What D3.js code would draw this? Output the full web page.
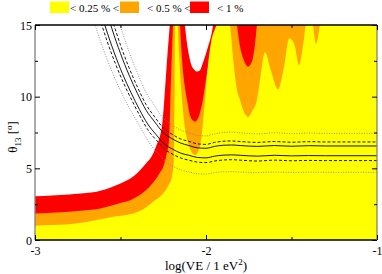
<!DOCTYPE html>
<html><head><meta charset="utf-8">
<script src="https://cdn.jsdelivr.net/npm/d3@7"></script>
<style>
body{margin:0;background:#fff}
svg{display:block}
text{font-family:"Liberation Serif","Times New Roman",serif;fill:#000}
</style>
</head><body>
<svg id="c" width="382" height="274"></svg>
<script>
const xTicks=[-3,-2,-1];
const xMinorTicks=[-2.5,-1.5];
const yTicks=[0,5,10,15];
const yMinorTicks=[2.5,7.5,12.5];
const legendLabels=["< 0.25 % <","< 0.5 % <","< 1 %"];
const legendColors=["#ffff00","#ffa500","#ff0000"];

// boundary of the 1 % region (red / white)
const bound3=[[-3,3.05],[-2.9,3.1],[-2.8,3.18],[-2.7,3.28],[-2.64,3.37],[-2.55,3.7],[-2.5,3.95],[-2.44,4.3],[-2.4,4.7],[-2.35,5.35],[-2.31,6.0],[-2.29,6.6],[-2.27,7.2],[-2.255,8.2],[-2.245,9.6],[-2.235,11.3],[-2.225,13.0],[-2.212,15],[-2.2,17.5],[-2.18,20],[-2.15,20],[-2.135,17],[-2.123,15],[-2.105,13.26],[-2.088,12.3],[-2.07,11.9],[-2.053,11.75],[-2.035,11.85],[-2.023,12.2],[-1.994,13.26],[-1.959,15],[-1.94,17],[-1.9,20],[-1.0,20]];
// boundary of the 0.5 % region (orange / red)
const bound2=[[-3,1.85],[-2.9,1.9],[-2.8,1.97],[-2.7,2.07],[-2.64,2.14],[-2.55,2.4],[-2.5,2.58],[-2.44,2.79],[-2.4,3.05],[-2.35,3.49],[-2.31,4.0],[-2.29,4.3],[-2.27,4.7],[-2.25,5.1],[-2.23,6.0],[-2.216,7.0],[-2.206,10.7],[-2.2,12.8],[-2.193,15],[-2.185,18],[-2.165,18],[-2.152,15],[-2.14,12.6],[-2.125,10.8],[-2.111,9.77],[-2.094,8.7],[-2.075,8.32],[-2.064,8.26],[-2.05,8.4],[-2.035,8.9],[-2.018,9.77],[-1.995,11.6],[-1.977,12.8],[-1.955,14.1],[-1.936,15],[-1.91,17],[-1.875,17.5],[-1.84,16.5],[-1.819,15],[-1.801,13.5],[-1.78,12.6],[-1.754,12.1],[-1.73,12.5],[-1.715,13.5],[-1.702,15],[-1.68,17],[-1.6,18.5],[-1.5,19],[-1.0,20]];
// boundary of the 0.25 % region (yellow / orange)
const bound1=[[-3,1.0],[-2.9,1.04],[-2.8,1.1],[-2.7,1.25],[-2.64,1.4],[-2.55,1.6],[-2.44,1.81],[-2.4,1.95],[-2.35,2.28],[-2.3,2.75],[-2.25,3.26],[-2.22,3.8],[-2.2,4.4],[-2.19,5.2],[-2.186,7.5],[-2.183,11],[-2.181,15],[-2.175,17.5],[-2.168,17],[-2.164,15],[-2.155,12.4],[-2.14,9.77],[-2.12,7.6],[-2.1,6.6],[-2.082,6.1],[-2.064,5.93],[-2.045,6.2],[-2.025,7.3],[-2.006,9.77],[-1.99,12.0],[-1.97,13.8],[-1.945,14.8],[-1.918,15.5],[-1.889,16],[-1.86,15],[-1.84,12.5],[-1.819,10.5],[-1.801,9.77],[-1.78,9.0],[-1.754,8.58],[-1.73,9.0],[-1.702,9.77],[-1.68,11.5],[-1.655,13.1],[-1.62,11.8],[-1.579,10.5],[-1.545,12.0],[-1.513,14.07],[-1.48,13.5],[-1.456,12.2],[-1.43,13.8],[-1.403,16],[-1.38,15.5],[-1.357,13.7],[-1.34,14.5],[-1.315,17],[-1.2,20],[-1.0,20]];

// sensitivity contour lines
const upperDotted=[[-2.55,16.9],[-2.5,14.9],[-2.45,13.13],[-2.4,11.62],[-2.35,10.29],[-2.3,9.36],[-2.25,8.51],[-2.2,8.04],[-2.15,7.68],[-2.1,7.48],[-2.05,7.30],[-2.0,7.26],[-1.95,7.40],[-1.9,7.50],[-1.85,7.52],[-1.8,7.48],[-1.7,7.40],[-1.6,7.48],[-1.5,7.42],[-1.4,7.46],[-1.3,7.44],[-1.0,7.44]];
const upperDashed=[[-2.55,15.43],[-2.5,13.6],[-2.45,12.02],[-2.4,10.65],[-2.35,9.44],[-2.3,8.59],[-2.25,7.82],[-2.2,7.39],[-2.15,7.06],[-2.1,6.88],[-2.05,6.71],[-2.0,6.67],[-1.95,6.81],[-1.9,6.89],[-1.85,6.91],[-1.8,6.87],[-1.7,6.81],[-1.6,6.87],[-1.5,6.82],[-1.4,6.86],[-1.3,6.84],[-1.0,6.84]];
const upperSolid=[[-2.6,16.76],[-2.55,14.74],[-2.5,13.01],[-2.45,11.51],[-2.4,10.2],[-2.35,9.05],[-2.3,8.24],[-2.25,7.49],[-2.2,7.08],[-2.15,6.77],[-2.1,6.59],[-2.05,6.43],[-2.0,6.40],[-1.95,6.53],[-1.9,6.61],[-1.85,6.63],[-1.8,6.59],[-1.7,6.53],[-1.6,6.59],[-1.5,6.54],[-1.4,6.58],[-1.3,6.56],[-1.0,6.56]];
const lowerSolid=[[-2.638,16.9],[-2.588,14.86],[-2.538,13.11],[-2.488,11.59],[-2.438,10.27],[-2.39,9.12],[-2.341,8.09],[-2.293,7.37],[-2.245,6.71],[-2.197,6.35],[-2.148,6.06],[-2.1,5.91],[-2.05,5.76],[-2.0,5.73],[-1.95,5.85],[-1.9,5.92],[-1.85,5.94],[-1.8,5.91],[-1.7,5.85],[-1.6,5.91],[-1.5,5.87],[-1.4,5.89],[-1.3,5.88],[-1.0,5.88]];
const lowerDashed=[[-2.63,15.81],[-2.58,13.93],[-2.53,12.31],[-2.48,10.9],[-2.43,9.66],[-2.383,8.58],[-2.336,7.62],[-2.289,6.95],[-2.241,6.32],[-2.194,5.98],[-2.147,5.72],[-2.1,5.57],[-2.05,5.43],[-2.0,5.40],[-1.95,5.51],[-1.9,5.58],[-1.85,5.60],[-1.8,5.57],[-1.7,5.51],[-1.6,5.57],[-1.5,5.53],[-1.4,5.55],[-1.3,5.54],[-1.0,5.54]];
const lowerDotted=[[-2.70,17.16],[-2.65,15.08],[-2.60,13.3],[-2.55,11.76],[-2.50,10.42],[-2.45,9.24],[-2.40,8.21],[-2.357,7.29],[-2.314,6.49],[-2.271,5.92],[-2.229,5.39],[-2.186,5.1],[-2.143,4.87],[-2.1,4.75],[-2.05,4.63],[-2.0,4.60],[-1.95,4.70],[-1.9,4.76],[-1.85,4.77],[-1.8,4.74],[-1.7,4.70],[-1.6,4.74],[-1.5,4.71],[-1.4,4.73],[-1.3,4.72],[-1.0,4.72]];

const svg=d3.select("#c");
const L=35,R=377,T=25,B=240;
const x=d3.scaleLinear().domain([-3,-1]).range([L,R]);
const y=d3.scaleLinear().domain([0,15]).range([B,T]);

svg.append("defs").append("clipPath").attr("id","clip")
  .append("rect").attr("x",L).attr("y",T).attr("width",R-L).attr("height",B-T);

const plot=svg.append("g").attr("clip-path","url(#clip)");
const area=d3.area().x(d=>x(d[0])).y0(y(0)).y1(d=>y(d[1])).curve(d3.curveMonotoneX);
[[bound3,legendColors[2]],[bound2,legendColors[1]],[bound1,legendColors[0]]].forEach(([data,col])=>{
  plot.append("path").datum(data).attr("d",area).attr("fill",col).attr("stroke","none");
});

const line=d3.line().x(d=>x(d[0])).y(d=>y(d[1])).curve(d3.curveMonotoneX);
const styles=[
  [upperDotted,"#888","1,1.5"],[lowerDotted,"#888","1,1.5"],
  [upperDashed,"#000","3,2"],[lowerDashed,"#000","3,2"],
  [upperSolid,"#000",null],[lowerSolid,"#000",null]
];
styles.forEach(([data,col,dash])=>{
  const p=plot.append("path").datum(data).attr("d",line).attr("fill","none")
    .attr("stroke",col).attr("stroke-width",0.9);
  if(dash)p.attr("stroke-dasharray",dash);
});

// frame
const fr=svg.append("g");
fr.append("line").attr("x1",L).attr("x2",R).attr("y1",T).attr("y2",T).attr("stroke","#000").attr("stroke-width",1.3);
fr.append("line").attr("x1",L).attr("x2",R).attr("y1",B).attr("y2",B).attr("stroke","#000").attr("stroke-width",1.3);
fr.append("line").attr("x1",L).attr("x2",L).attr("y1",T).attr("y2",B).attr("stroke","#808080").attr("stroke-width",1.3);
fr.append("line").attr("x1",R).attr("x2",R).attr("y1",T).attr("y2",B).attr("stroke","#808080").attr("stroke-width",1.3);

// ticks (inward) via axes
const xb=d3.axisBottom(x).tickValues(xTicks).tickSize(-5).tickFormat(d=>d);
const gxb=svg.append("g").attr("transform",`translate(0,${B})`).call(xb);
const xbm=d3.axisBottom(x).tickValues(xMinorTicks).tickSize(-3).tickFormat("");
svg.append("g").attr("transform",`translate(0,${B})`).call(xbm);
const xt=d3.axisTop(x).tickValues(xTicks).tickSize(-5).tickFormat("");
svg.append("g").attr("transform",`translate(0,${T})`).call(xt);
const xtm=d3.axisTop(x).tickValues(xMinorTicks).tickSize(-3).tickFormat("");
svg.append("g").attr("transform",`translate(0,${T})`).call(xtm);
const yl=d3.axisLeft(y).tickValues(yTicks).tickSize(-5).tickFormat(d=>d);
const gyl=svg.append("g").attr("transform",`translate(${L},0)`).call(yl);
const ylm=d3.axisLeft(y).tickValues(yMinorTicks).tickSize(-3).tickFormat("");
svg.append("g").attr("transform",`translate(${L},0)`).call(ylm);
const yr=d3.axisRight(y).tickValues(yTicks).tickSize(-5).tickFormat("");
svg.append("g").attr("transform",`translate(${R},0)`).call(yr);
const yrm=d3.axisRight(y).tickValues(yMinorTicks).tickSize(-3).tickFormat("");
svg.append("g").attr("transform",`translate(${R},0)`).call(yrm);
svg.selectAll(".domain").remove();
svg.selectAll(".tick line").attr("stroke","#000").attr("stroke-width",1);
svg.selectAll(".tick text").attr("font-family","Liberation Serif");
gxb.selectAll("text").attr("font-size",12).attr("y",6).attr("dy","0.71em");
gyl.selectAll("text").attr("font-size",12).attr("x",-3).attr("dy","0.35em");

// axis titles
const xt2=svg.append("text").attr("x",(L+R)/2).attr("y",270).attr("text-anchor","middle").attr("font-size",13);
xt2.append("tspan").text("log(VE / 1 eV");
xt2.append("tspan").attr("font-size",9).attr("dy",-5).text("2");
xt2.append("tspan").attr("dy",5).text(")");

const yt=svg.append("text").attr("transform","translate(17,137) rotate(-90)").attr("text-anchor","middle").attr("font-size",13);
yt.append("tspan").text("θ");
yt.append("tspan").attr("font-size",9).attr("dy",4).text("13");
yt.append("tspan").attr("dy",-4).text(" [");
yt.append("tspan").attr("font-size",9).attr("dy",-5).text("o");
yt.append("tspan").attr("dy",5).text("]");

// legend
const lx=[50,120,190], tx=[70,147,217];
legendLabels.forEach((t,i)=>{
  svg.append("rect").attr("x",lx[i]).attr("y",1.5).attr("width",19).attr("height",11.5).attr("fill",legendColors[i]);
  svg.append("text").attr("x",tx[i]).attr("y",11.5).attr("font-size",11).text(t);
});
</script>
</body></html>
